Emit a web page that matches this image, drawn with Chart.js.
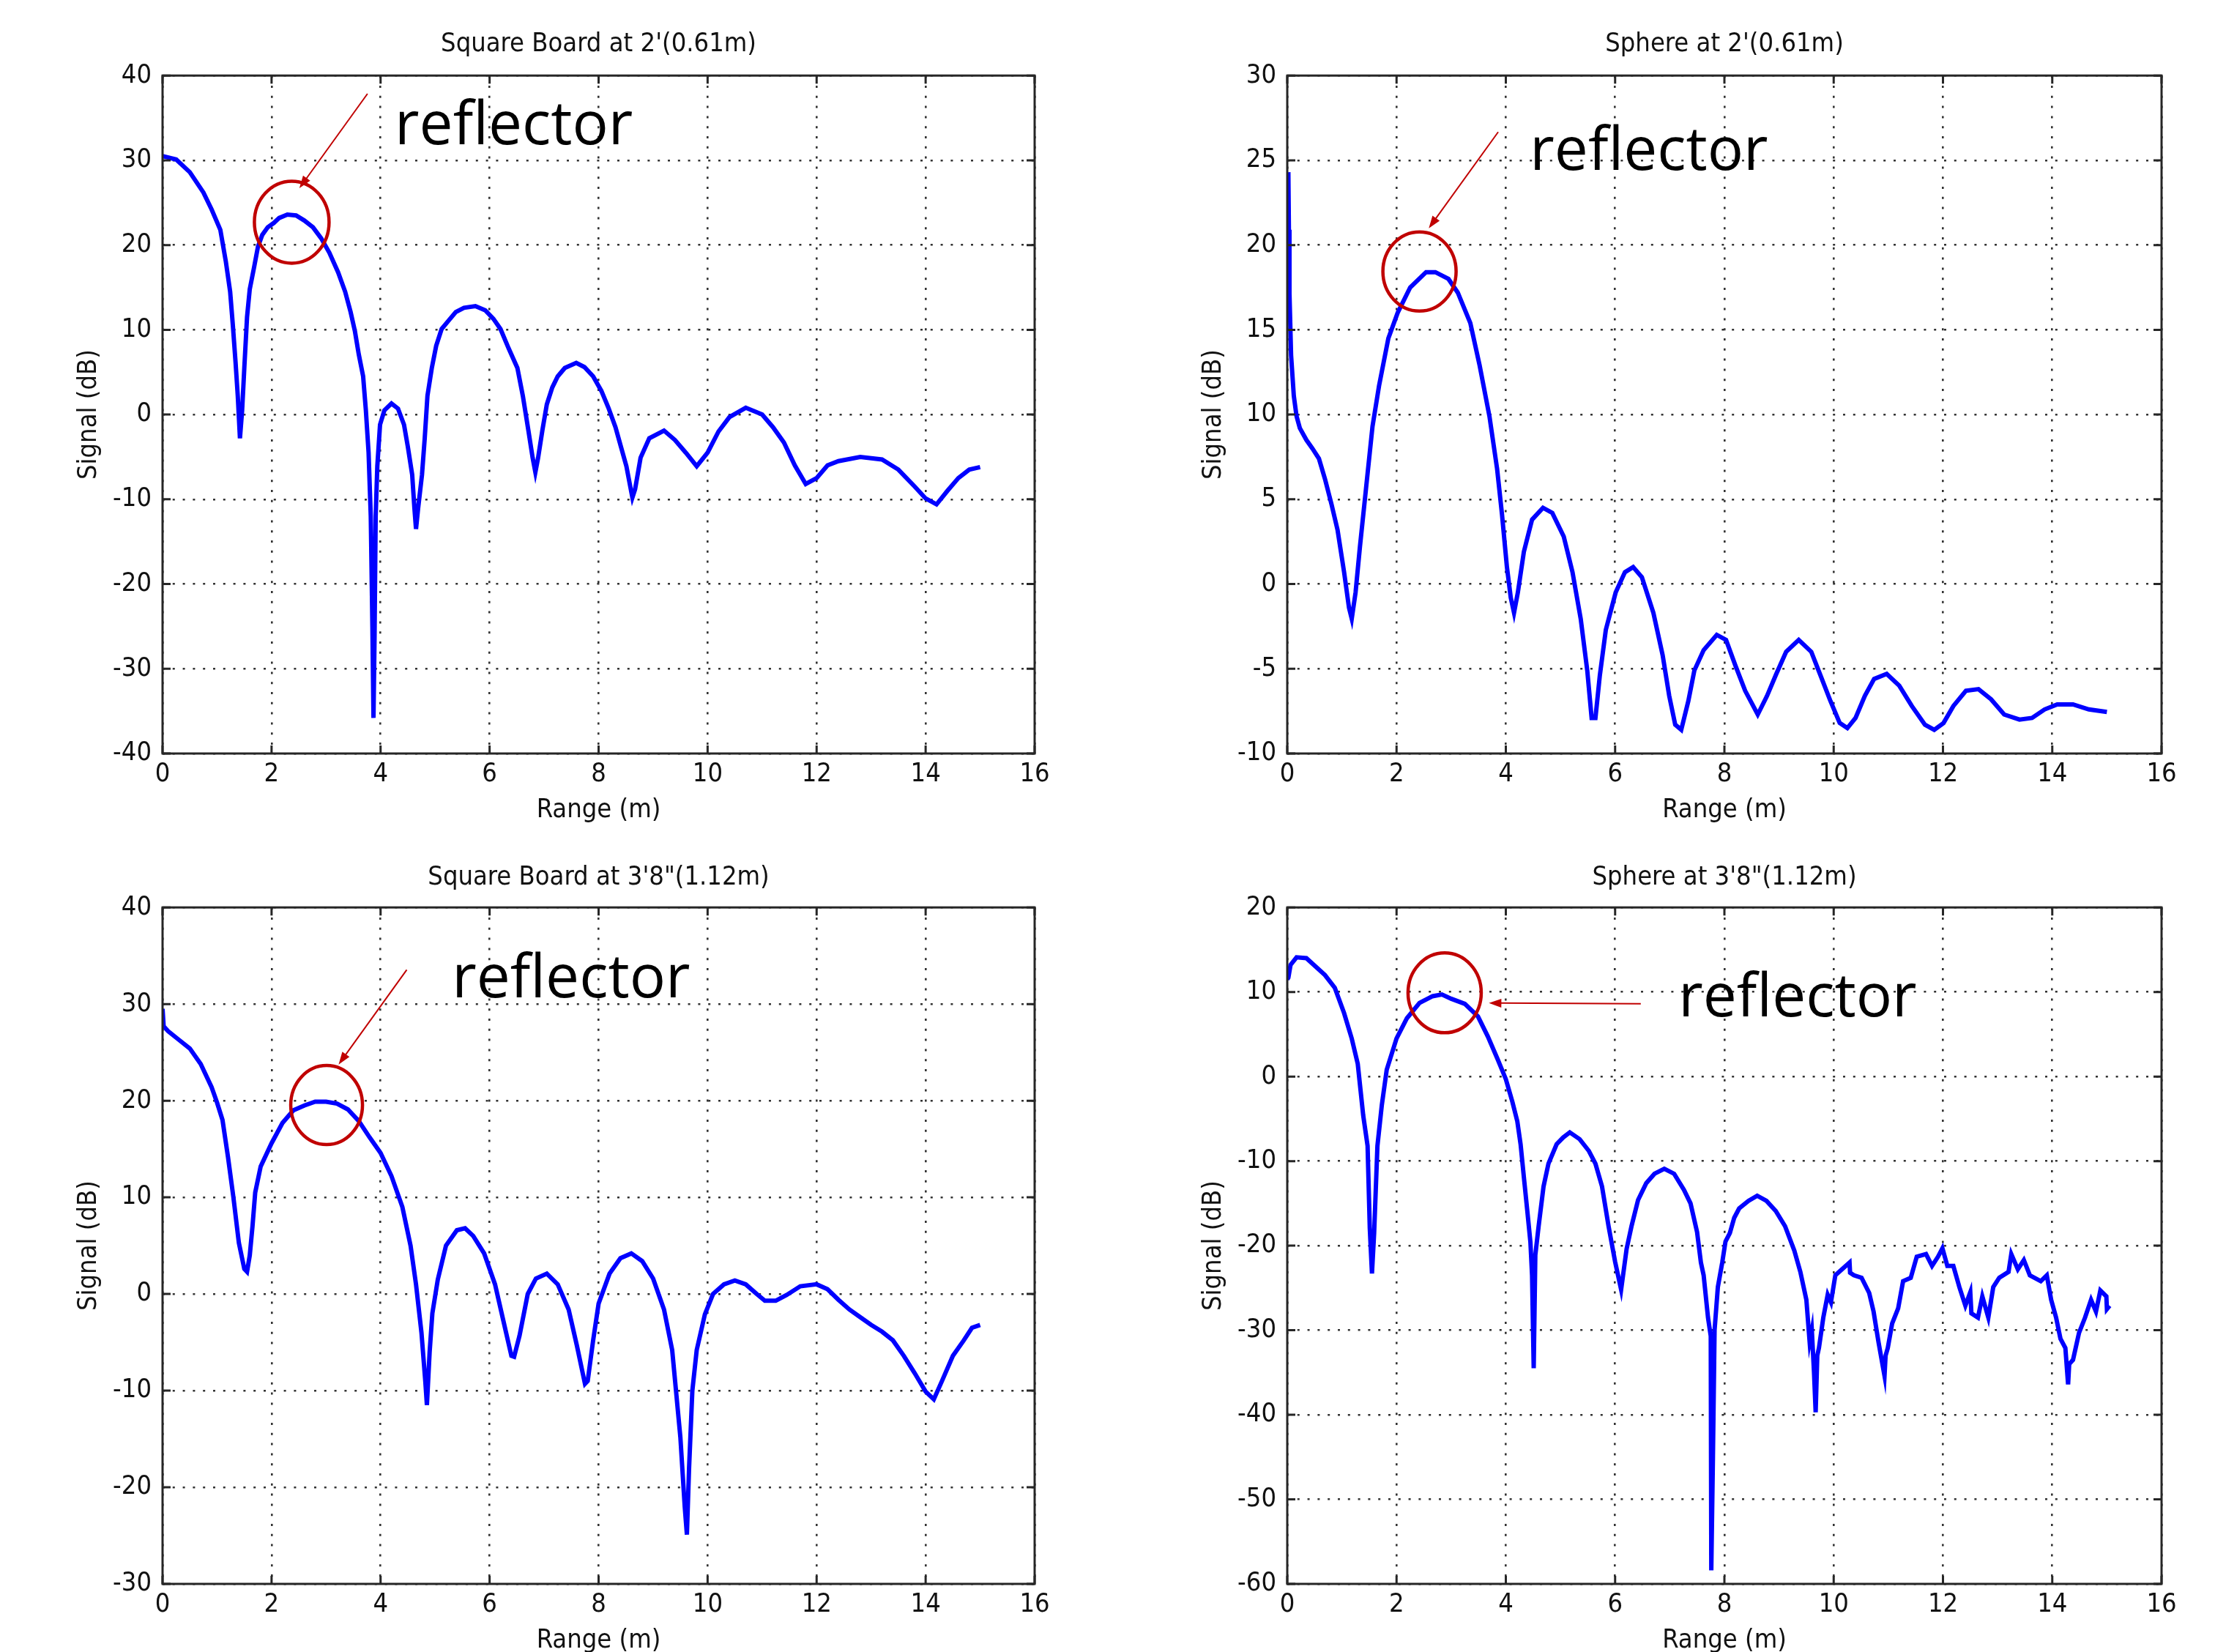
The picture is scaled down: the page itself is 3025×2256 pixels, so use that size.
<!DOCTYPE html>
<html>
<head>
<meta charset="utf-8">
<title>Signal vs Range</title>
<script src="https://cdn.jsdelivr.net/npm/chart.js@4.4.0/dist/chart.umd.min.js"></script>
<style>
  html, body { margin: 0; padding: 0; background: #fff; overflow: hidden; }
  body { width: 3025px; height: 2256px; position: relative; }
  canvas { position: absolute; }
</style>
</head>
<body>
<canvas id="boardNear"></canvas>
<canvas id="sphereNear"></canvas>
<canvas id="boardFar"></canvas>
<canvas id="sphereFar"></canvas>
<script>
// ---- values ----
const rangeTicks = [0, 2, 4, 6, 8, 10, 12, 14, 16];

// Square Board at 2'(0.61m)
const boardNearTicks = [-40, -30, -20, -10, 0, 10, 20, 30, 40];
const boardNearRange = [0, 0.25, 0.5, 0.75, 0.9, 1.06, 1.16, 1.24, 1.29, 1.34, 1.38, 1.42, 1.46, 1.5, 1.55, 1.6, 1.68, 1.75, 1.83, 1.93,
  2.04, 2.14, 2.29, 2.45, 2.6, 2.76, 2.91, 3.06, 3.22, 3.35, 3.45, 3.53, 3.6, 3.68, 3.73, 3.78, 3.82, 3.85, 3.87, 3.89,
  3.91, 3.94, 3.99, 4.07, 4.2, 4.32, 4.43, 4.5, 4.58, 4.62, 4.65, 4.69, 4.76, 4.81, 4.86, 4.94, 5.02, 5.12, 5.25, 5.38,
  5.53, 5.74, 5.92, 6.07, 6.2, 6.35, 6.51, 6.61, 6.71, 6.79, 6.84, 6.89, 6.97, 7.05, 7.15, 7.25, 7.38, 7.59, 7.74, 7.9,
  8.05, 8.18, 8.31, 8.41, 8.51, 8.59, 8.62, 8.67, 8.77, 8.93, 9.2, 9.4, 9.6, 9.8, 10.0, 10.2, 10.4, 10.7, 11.0, 11.2,
  11.4, 11.6, 11.8, 12.0, 12.2, 12.4, 12.8, 13.2, 13.5, 13.8, 14.0, 14.2, 14.4, 14.6, 14.8, 15.0];
const boardNearSignal = [30.5, 30.1, 28.6, 26.2, 24.2, 21.8, 18.1, 14.5, 10.5, 6.1, 2.2, -2.8, 0.5, 5.5, 11.5, 14.8, 17.4, 19.8, 21.2, 22.1,
  22.6, 23.2, 23.6, 23.5, 22.9, 22.1, 20.8, 19.1, 16.8, 14.5, 12.1, 9.8, 7.1, 4.5, 0.5, -4.5, -12, -25, -35.8, -26,
  -12, -6.1, -1.2, 0.5, 1.3, 0.7, -1.2, -3.8, -7.1, -11, -13.5, -11, -7.1, -2.8, 2.2, 5.5, 8.1, 10.1, 11.1, 12.1,
  12.6, 12.8, 12.3, 11.3, 10.1, 7.8, 5.5, 2.2, -1.8, -5.1, -6.8, -5.1, -1.8, 1.2, 3.2, 4.5, 5.5, 6.1, 5.6, 4.5,
  2.8, 0.8, -1.5, -3.8, -6.1, -8.8, -9.8, -8.8, -5.1, -2.8, -1.9, -3.0, -4.5, -6.1, -4.5, -2.0, -0.3, 0.8, 0.0, -1.5,
  -3.3, -6.0, -8.2, -7.5, -6.0, -5.5, -5.0, -5.3, -6.5, -8.5, -9.9, -10.6, -9.0, -7.5, -6.5, -6.2];

// Sphere at 2'(0.61m)
const sphereNearTicks = [-10, -5, 0, 5, 10, 15, 20, 25, 30];
const sphereNearRange = [0.02, 0.03, 0.04, 0.07, 0.12, 0.17, 0.23, 0.35, 0.46, 0.58, 0.69, 0.81, 0.92, 1.04, 1.13, 1.18, 1.25, 1.33, 1.44, 1.56,
  1.68, 1.85, 2.02, 2.25, 2.54, 2.71, 2.95, 3.12, 3.35, 3.52, 3.7, 3.84, 3.93, 4.02, 4.09, 4.15, 4.22, 4.33, 4.48, 4.68,
  4.85, 5.06, 5.22, 5.37, 5.49, 5.57, 5.64, 5.72, 5.83, 6.01, 6.18, 6.33, 6.49, 6.7, 6.87, 6.99, 7.1, 7.21, 7.34, 7.45,
  7.62, 7.86, 8.03, 8.2, 8.38, 8.61, 8.78, 8.95, 9.13, 9.36, 9.59, 9.76, 9.94, 10.11, 10.25, 10.4, 10.57, 10.74, 10.97, 11.2,
  11.43, 11.67, 11.84, 12.01, 12.19, 12.42, 12.65, 12.88, 13.12, 13.4, 13.63, 13.86, 14.09, 14.38, 14.67, 15.0];
const sphereNearSignal = [24.3, 20.9, 17.2, 13.5, 11.1, 9.9, 9.2, 8.5, 8.0, 7.4, 6.2, 4.7, 3.2, 0.7, -1.4, -2.05, -0.5, 2.2, 5.6, 9.3,
  11.7, 14.5, 16.0, 17.5, 18.4, 18.4, 18.0, 17.2, 15.4, 12.9, 9.9, 6.8, 4.1, 1.0, -0.8, -1.7, -0.5, 1.9, 3.8, 4.5,
  4.2, 2.8, 0.7, -2.05, -5.1, -7.9, -7.9, -5.4, -2.7, -0.5, 0.7, 1.0, 0.4, -1.7, -4.2, -6.6, -8.3, -8.6, -6.9, -5.1,
  -3.9, -3.0, -3.3, -4.8, -6.3, -7.7, -6.6, -5.3, -4.0, -3.3, -4.0, -5.4, -6.9, -8.2, -8.5, -7.9, -6.6, -5.6, -5.3, -6.0,
  -7.2, -8.3, -8.6, -8.2, -7.2, -6.3, -6.2, -6.8, -7.7, -8.0, -7.9, -7.4, -7.1, -7.1, -7.4, -7.55];

// Square Board at 3'8"(1.12m)
const boardFarTicks = [-30, -20, -10, 0, 10, 20, 30, 40];
const boardFarRange = [0, 0.02, 0.1, 0.3, 0.5, 0.7, 0.9, 1.0, 1.1, 1.2, 1.3, 1.4, 1.5, 1.55, 1.6, 1.65, 1.7, 1.8, 2.0, 2.2,
  2.4, 2.6, 2.8, 3.0, 3.2, 3.4, 3.6, 3.8, 4.0, 4.2, 4.4, 4.55, 4.65, 4.75, 4.82, 4.85, 4.9, 4.95, 5.05, 5.2,
  5.4, 5.55, 5.7, 5.9, 6.1, 6.25, 6.4, 6.45, 6.55, 6.7, 6.85, 7.05, 7.25, 7.45, 7.6, 7.75, 7.8, 7.9, 8.0, 8.2,
  8.4, 8.6, 8.8, 9.0, 9.2, 9.35, 9.5, 9.58, 9.62, 9.66, 9.72, 9.8, 9.95, 10.1, 10.3, 10.5, 10.7, 10.9, 11.05, 11.25,
  11.45, 11.7, 12.0, 12.2, 12.4, 12.6, 12.8, 13.0, 13.2, 13.4, 13.6, 13.8, 14.0, 14.15, 14.3, 14.5, 14.7, 14.85, 15.0];
const boardFarSignal = [29.5, 27.7, 27.2, 26.3, 25.4, 23.8, 21.4, 19.8, 18.0, 14.2, 10.0, 5.3, 2.6, 2.3, 4.0, 7.0, 10.5, 13.2, 15.6, 17.7,
  19.0, 19.5, 19.9, 19.9, 19.7, 19.1, 17.9, 16.2, 14.6, 12.2, 9.0, 5.0, 1.0, -4.0, -9.0, -11.5, -6.0, -2.0, 1.5, 5.0,
  6.6, 6.8, 6.0, 4.2, 1.0, -2.7, -6.4, -6.5, -4.3, 0.0, 1.6, 2.1, 1.0, -1.6, -5.3, -9.3, -9.0, -4.8, -1.0, 2.1,
  3.7, 4.2, 3.4, 1.6, -1.6, -5.8, -14.8, -22.0, -24.9, -18.0, -10.0, -5.8, -2.1, 0.0, 1.0, 1.4, 1.0, 0.0, -0.7, -0.7,
  -0.1, 0.8, 1.0, 0.5, -0.6, -1.6, -2.4, -3.2, -3.9, -4.8, -6.4, -8.2, -10.1, -10.9, -9.0, -6.4, -4.8, -3.5, -3.2];

// Sphere at 3'8"(1.12m)
const sphereFarTicks = [-60, -50, -40, -30, -20, -10, 0, 10, 20];
const sphereFarRange = [0, 0.02, 0.06, 0.17, 0.35, 0.52, 0.69, 0.87, 1.04, 1.18, 1.29, 1.39, 1.47, 1.51, 1.55, 1.59, 1.65, 1.73, 1.82, 2.0,
  2.19, 2.42, 2.66, 2.83, 3.0, 3.25, 3.49, 3.67, 3.85, 4.0, 4.12, 4.21, 4.27, 4.33, 4.39, 4.45, 4.48, 4.51, 4.54, 4.6,
  4.69, 4.78, 4.93, 5.05, 5.17, 5.35, 5.52, 5.64, 5.76, 5.88, 6.0, 6.11, 6.21, 6.3, 6.42, 6.57, 6.72, 6.9, 7.08, 7.26,
  7.38, 7.5, 7.57, 7.62, 7.7, 7.75, 7.76, 7.79, 7.82, 7.88, 7.96, 8.02, 8.1, 8.18, 8.27, 8.44, 8.6, 8.77, 8.94, 9.11,
  9.28, 9.39, 9.5, 9.56, 9.6, 9.64, 9.67, 9.7, 9.73, 9.81, 9.89, 9.95, 10.03, 10.15, 10.29, 10.3, 10.37, 10.51, 10.65, 10.73,
  10.82, 10.93, 10.95, 10.99, 11.07, 11.18, 11.27, 11.41, 11.52, 11.69, 11.8, 11.91, 11.99, 12.08, 12.19, 12.3, 12.41, 12.5, 12.52, 12.64,
  12.72, 12.83, 12.92, 13.03, 13.2, 13.25, 13.37, 13.48, 13.59, 13.79, 13.9, 13.98, 14.07, 14.15, 14.24, 14.29, 14.31, 14.38, 14.49, 14.6,
  14.71, 14.8, 14.88, 14.99, 15.0, 15.05];
const sphereFarSignal = [11.5, 11.7, 13.2, 14.1, 14.0, 13.0, 12.0, 10.5, 7.5, 4.5, 1.5, -4.6, -8.2, -17.9, -23.3, -18.5, -8.2, -3.4, 0.8, 4.5,
  6.9, 8.7, 9.5, 9.7, 9.2, 8.6, 7.1, 4.75, 2.05, -0.3, -3.0, -5.3, -8.0, -11.9, -15.7, -19.6, -23.5, -34.5, -21.1, -17.7,
  -13.0, -10.3, -8.0, -7.2, -6.6, -7.4, -8.8, -10.3, -13.0, -17.7, -21.9, -25.2, -20.4, -17.7, -14.6, -12.6, -11.5, -10.9, -11.5, -13.4,
  -15.0, -18.4, -22.0, -23.5, -28.5, -30.7, -58.4, -45.0, -30.0, -24.9, -22.0, -19.5, -18.5, -16.7, -15.6, -14.7, -14.1, -14.7, -15.9, -17.7,
  -20.6, -23.1, -26.4, -31.4, -30.0, -35.0, -39.7, -33.0, -32.1, -28.5, -25.8, -26.7, -23.5, -22.8, -22.0, -23.2, -23.5, -23.8, -25.6, -27.8,
  -31.4, -35.4, -33.0, -32.1, -29.2, -27.4, -24.2, -23.8, -21.3, -21.0, -22.4, -21.3, -20.3, -22.4, -22.4, -24.9, -27.1, -25.5, -28.0, -28.5,
  -26.0, -28.5, -24.9, -23.8, -23.1, -21.0, -22.8, -21.7, -23.5, -24.2, -23.5, -26.4, -28.5, -31.0, -32.1, -36.4, -34.0, -33.5, -30.3, -28.5,
  -26.4, -27.8, -25.3, -26.0, -27.5, -27.1];

const panelTitles = ["Square Board at 2'(0.61m)", "Sphere at 2'(0.61m)", 'Square Board at 3\'8"(1.12m)', 'Sphere at 3\'8"(1.12m)'];

// ---- shared look ----
const matlabFont = "'Liberation Sans Narrow', 'DejaVu Sans Condensed', 'Liberation Sans', Arial, sans-serif";
Chart.defaults.font.family = matlabFont;
Chart.defaults.font.size = 36;
Chart.defaults.font.lineHeight = 1.2;
Chart.defaults.color = '#111';

// room to the right of the axes so the "16" label is not cut
const rightRoom = 30;

// inward ticks on all four sides + box, like MATLAB axes
const matlabBox = {
  id: 'matlabBox',
  afterDraw(chart) {
    const { ctx, chartArea: a, scales: { x, y } } = chart;
    const len = 11;
    ctx.save();
    ctx.strokeStyle = '#262626';
    ctx.lineWidth = 3;
    ctx.beginPath();
    x.ticks.forEach(t => {
      const px = x.getPixelForValue(t.value);
      ctx.moveTo(px, a.bottom); ctx.lineTo(px, a.bottom - len);
      ctx.moveTo(px, a.top); ctx.lineTo(px, a.top + len);
    });
    y.ticks.forEach(t => {
      const py = y.getPixelForValue(t.value);
      ctx.moveTo(a.left, py); ctx.lineTo(a.left + len, py);
      ctx.moveTo(a.right, py); ctx.lineTo(a.right - len, py);
    });
    ctx.stroke();
    ctx.strokeRect(a.left, a.top, a.right - a.left, a.bottom - a.top);
    ctx.restore();
  }
};

// red circle + arrow + "reflector" label, placed in data coordinates
const reflectorNote = {
  id: 'reflector',
  afterDraw(chart, args, opts) {
    const { ctx, scales: { x, y } } = chart;
    const cx = x.getPixelForValue(opts.circle[0]);
    const cy = y.getPixelForValue(opts.circle[1]);
    ctx.save();
    ctx.strokeStyle = '#c00000';
    ctx.lineWidth = 4.5;
    ctx.beginPath();
    ctx.ellipse(cx, cy, opts.radius[0], opts.radius[1], 0, 0, Math.PI * 2);
    ctx.stroke();

    const x1 = x.getPixelForValue(opts.arrowFrom[0]);
    const y1 = y.getPixelForValue(opts.arrowFrom[1]);
    const x2 = x.getPixelForValue(opts.arrowTo[0]);
    const y2 = y.getPixelForValue(opts.arrowTo[1]);
    const ang = Math.atan2(y2 - y1, x2 - x1);
    const head = 17;
    ctx.lineWidth = 2;
    ctx.beginPath();
    ctx.moveTo(x1, y1);
    ctx.lineTo(x2 - Math.cos(ang) * head * 0.8, y2 - Math.sin(ang) * head * 0.8);
    ctx.stroke();
    ctx.fillStyle = '#c00000';
    ctx.beginPath();
    ctx.moveTo(x2, y2);
    ctx.lineTo(x2 - head * Math.cos(ang) + 6 * Math.sin(ang), y2 - head * Math.sin(ang) - 6 * Math.cos(ang));
    ctx.lineTo(x2 - head * Math.cos(ang) - 6 * Math.sin(ang), y2 - head * Math.sin(ang) + 6 * Math.cos(ang));
    ctx.closePath();
    ctx.fill();

    ctx.fillStyle = '#000';
    ctx.font = "82px 'Open Sans', 'Noto Sans', sans-serif";
    ctx.textBaseline = 'alphabetic';
    ctx.textAlign = 'left';
    ctx.fillText('reflector', x.getPixelForValue(opts.label[0]), y.getPixelForValue(opts.label[1]));
    ctx.restore();
  }
};

function makePanel(id, box, title, ranges, signals, yTicks, note, titlePad) {
  const canvas = document.getElementById(id);
  canvas.width = box.w + rightRoom;
  canvas.height = box.h;
  canvas.style.left = box.left + 'px';
  canvas.style.top = box.top + 'px';

  const points = ranges.map((r, i) => ({ x: r, y: signals[i] }));
  const dotted = { display: false, dash: [3, 10.8] };
  const grid = { color: '#333', lineWidth: 2.6, drawTicks: false };

  return new Chart(canvas, {
    type: 'line',
    data: {
      datasets: [{
        data: points,
        borderColor: '#0000ff',
        borderWidth: 6,
        pointRadius: 0,
        tension: 0,
        fill: false
      }]
    },
    options: {
      responsive: false,
      animation: false,
      events: [],
      layout: { padding: { left: 0, top: 0, bottom: 0, right: rightRoom } },
      plugins: {
        legend: { display: false },
        tooltip: { enabled: false },
        title: {
          display: true,
          text: title,
          fullSize: false,
          color: '#111',
          font: { size: 36, lineHeight: 1.2, weight: 'normal' },
          padding: titlePad
        },
        reflector: note
      },
      scales: {
        x: {
          type: 'linear',
          min: rangeTicks[0],
          max: rangeTicks[rangeTicks.length - 1],
          afterBuildTicks: s => { s.ticks = rangeTicks.map(v => ({ value: v })); },
          afterFit: s => { s.height = 99; s.paddingLeft = 0; s.paddingRight = 0; },
          grid: grid,
          border: dotted,
          ticks: { padding: 7, maxRotation: 0, autoSkip: false, color: '#111' },
          title: { display: true, text: 'Range (m)', padding: 0, color: '#111' }
        },
        y: {
          type: 'linear',
          min: yTicks[0],
          max: yTicks[yTicks.length - 1],
          afterBuildTicks: s => { s.ticks = yTicks.map(v => ({ value: v })); },
          afterFit: s => { s.width = 122; s.paddingTop = 0; s.paddingBottom = 0; },
          grid: grid,
          border: dotted,
          ticks: { padding: 15, autoSkip: false, color: '#111' },
          title: { display: true, text: 'Signal (dB)', padding: 0, color: '#111' }
        }
      }
    },
    plugins: [matlabBox, reflectorNote]
  });
}

const topPad = { top: 19, bottom: 21 };
const lowPad = { top: 21, bottom: 19 };

makePanel('boardNear', { left: 100, top: 20, w: 1313, h: 1108 }, panelTitles[0],
  boardNearRange, boardNearSignal, boardNearTicks,
  { circle: [2.37, 22.7], radius: [51, 56], arrowFrom: [3.76, 37.86], arrowTo: [2.51, 26.71], label: [4.26, 31.88] }, topPad);

makePanel('sphereNear', { left: 1636, top: 20, w: 1316, h: 1108 }, panelTitles[1],
  sphereNearRange, sphereNearSignal, sphereNearTicks,
  { circle: [2.42, 18.44], radius: [50, 54], arrowFrom: [3.86, 26.67], arrowTo: [2.59, 20.99], label: [4.44, 24.44] }, topPad);

makePanel('boardFar', { left: 100, top: 1156, w: 1313, h: 1106 }, panelTitles[2],
  boardFarRange, boardFarSignal, boardFarTicks,
  { circle: [3.01, 19.55], radius: [49, 54], arrowFrom: [4.48, 33.55], arrowTo: [3.23, 23.75], label: [5.31, 30.73] }, lowPad);

makePanel('sphereFar', { left: 1636, top: 1156, w: 1316, h: 1106 }, panelTitles[3],
  sphereFarRange, sphereFarSignal, sphereFarTicks,
  { circle: [2.88, 9.9], radius: [50, 54.5], arrowFrom: [6.47, 8.61], arrowTo: [3.69, 8.69], label: [7.16, 7.14] }, lowPad);
</script>
</body>
</html>
